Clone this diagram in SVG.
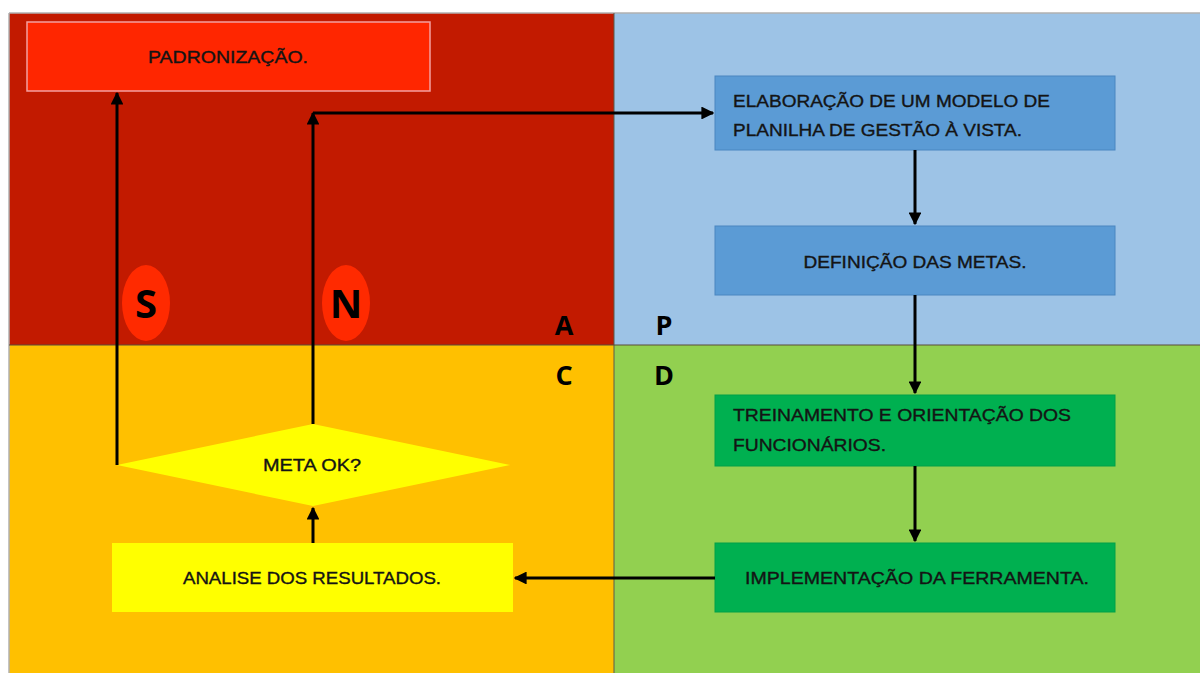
<svg xmlns="http://www.w3.org/2000/svg" width="1200" height="673" viewBox="0 0 1200 673">
<defs>
<style>
.t{font-family:"Liberation Sans",Arial,sans-serif;font-size:17px;fill:#141414;stroke:#141414;stroke-width:0.35;}
.big{font-family:"Open Sans","Liberation Sans",sans-serif;font-weight:bold;fill:#000;}
.ln{stroke:#000;stroke-width:3;fill:none;}
.blue{fill:#5b9bd5;stroke:#4a86c0;stroke-width:1;}
.green{fill:#00b050;stroke:#00a048;stroke-width:1;}
</style>
<marker id="ah" viewBox="0 0 10 10" refX="9" refY="5" markerWidth="4.3" markerHeight="4.3" orient="auto" markerUnits="strokeWidth">
<path d="M0,0 L10,5 L0,10 z" fill="#000"/>
</marker>
</defs>
<rect x="0" y="0" width="1200" height="673" fill="#fff"/>
<g id="quadrants">
<rect x="9" y="13" width="605" height="332" fill="#c21a00"/>
<rect x="614" y="13" width="586" height="332" fill="#9dc3e6"/>
<rect x="9" y="345" width="605" height="328" fill="#ffc000"/>
<rect x="614" y="345" width="586" height="328" fill="#92d050"/>
<line x1="9" y1="13" x2="1200" y2="13" stroke="#b0b0b0" stroke-width="1.5"/>
<line x1="9" y1="13" x2="9" y2="673" stroke="#b0b0b0" stroke-width="1.5"/>
<line x1="614" y1="13" x2="614" y2="673" stroke="#5a5a4a" stroke-width="1"/>
<line x1="9" y1="345" x2="1200" y2="345" stroke="#5a4a3a" stroke-width="1"/>
</g>
<g id="labels">
<text class="big" x="564" y="335" font-size="27" text-anchor="middle">A</text>
<text class="big" x="664" y="335" font-size="27" text-anchor="middle">P</text>
<text class="big" x="564" y="385" font-size="27" text-anchor="middle">C</text>
<text class="big" x="664" y="385" font-size="27" text-anchor="middle">D</text>
</g>
<g id="node-padronizacao">
<rect x="27" y="22" width="403" height="69" fill="#ff2600" stroke="#f4a0a0" stroke-width="1.5"/>
<text class="t" x="228" y="63" text-anchor="middle" textLength="160" lengthAdjust="spacingAndGlyphs">PADRONIZAÇÃO.</text>
</g>
<g id="node-elaboracao">
<rect class="blue" x="715" y="76" width="400" height="74"/>
<text class="t" x="733" y="107" textLength="317" lengthAdjust="spacingAndGlyphs">ELABORAÇÃO DE UM MODELO DE</text>
<text class="t" x="733" y="136" textLength="289" lengthAdjust="spacingAndGlyphs">PLANILHA DE GESTÃO À VISTA.</text>
</g>
<g id="node-definicao">
<rect class="blue" x="715" y="226" width="400" height="69"/>
<text class="t" x="915" y="268" text-anchor="middle" textLength="223" lengthAdjust="spacingAndGlyphs">DEFINIÇÃO DAS METAS.</text>
</g>
<g id="node-treinamento">
<rect class="green" x="715" y="395" width="400" height="71"/>
<text class="t" x="733" y="421" textLength="338" lengthAdjust="spacingAndGlyphs">TREINAMENTO  E ORIENTAÇÃO DOS</text>
<text class="t" x="733" y="451" textLength="153" lengthAdjust="spacingAndGlyphs">FUNCIONÁRIOS.</text>
</g>
<g id="node-implementacao">
<rect class="green" x="715" y="543" width="400" height="69"/>
<text class="t" x="917" y="584" text-anchor="middle" textLength="344" lengthAdjust="spacingAndGlyphs">IMPLEMENTAÇÃO DA FERRAMENTA.</text>
</g>
<g id="node-analise">
<rect x="112" y="543" width="401" height="69" fill="#ffff00"/>
<text class="t" x="312" y="584" text-anchor="middle" textLength="258" lengthAdjust="spacingAndGlyphs">ANALISE DOS RESULTADOS.</text>
</g>
<g id="node-meta">
<polygon points="117,465 313,424 510,465 313,506" fill="#ffff00"/>
<text class="t" x="312" y="471" text-anchor="middle" textLength="98" lengthAdjust="spacingAndGlyphs">META OK?</text>
</g>
<g id="node-S">
<ellipse cx="146" cy="303" rx="24" ry="38" fill="#ff2a00"/>
<text class="big" x="146" y="318" font-size="40" text-anchor="middle">S</text>
</g>
<g id="node-N">
<ellipse cx="346" cy="303" rx="24" ry="38" fill="#ff2a00"/>
<text class="big" x="346" y="318" font-size="40" text-anchor="middle">N</text>
</g>
<g id="connectors">
<path class="ln" d="M117,465 L117,93" marker-end="url(#ah)"/>
<path class="ln" d="M313,424 L313,113" marker-end="url(#ah)"/>
<path class="ln" d="M313,113 L713,113" marker-end="url(#ah)"/>
<path class="ln" d="M915,150 L915,224" marker-end="url(#ah)"/>
<path class="ln" d="M915,295 L915,393" marker-end="url(#ah)"/>
<path class="ln" d="M915,466 L915,541" marker-end="url(#ah)"/>
<path class="ln" d="M715,578 L515,578" marker-end="url(#ah)"/>
<path class="ln" d="M313,543 L313,508" marker-end="url(#ah)"/>
</g>
</svg>
